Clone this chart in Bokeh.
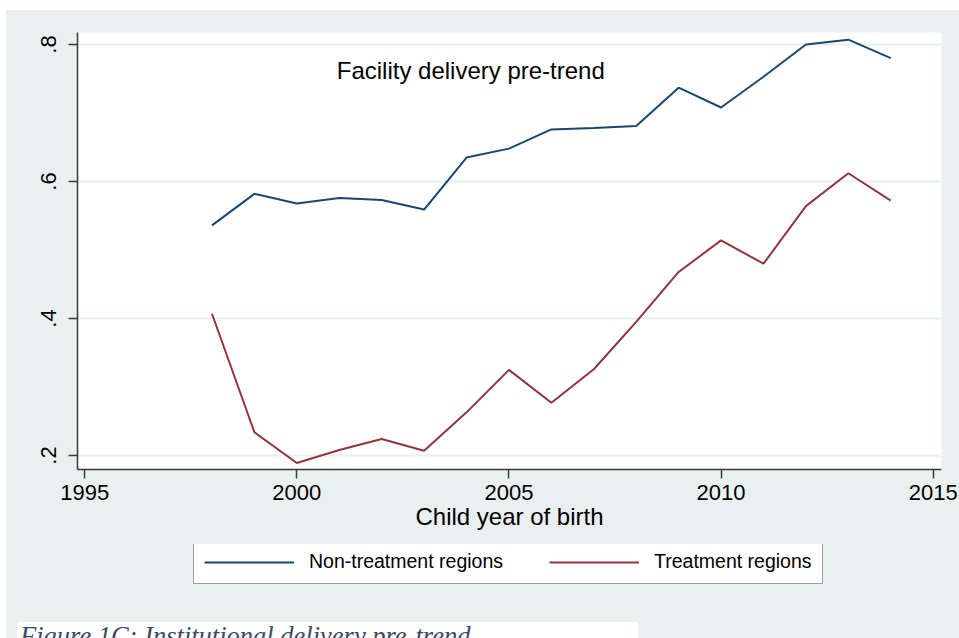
from bokeh.plotting import figure
from bokeh.models import Range1d, FixedTicker, Legend, LegendItem, Label, Div, Spacer
from bokeh.layouts import column, row
from bokeh.embed import file_html
from bokeh.resources import INLINE

years = [1998, 1999, 2000, 2001, 2002, 2003, 2004, 2005, 2006, 2007, 2008, 2009, 2010, 2011, 2012, 2013, 2014]
non_treatment = [0.536, 0.582, 0.568, 0.576, 0.573, 0.559, 0.635, 0.648, 0.676, 0.678, 0.681,
                 0.737, 0.708, 0.753, 0.800, 0.807, 0.780]
treatment = [0.407, 0.234, 0.189, 0.208, 0.224, 0.207, 0.263, 0.325, 0.277, 0.326, 0.395,
             0.468, 0.514, 0.480, 0.564, 0.612, 0.572]
x_ticks = [1995, 2000, 2005, 2010, 2015]
y_ticks = [0.2, 0.4, 0.6, 0.8]
y_tick_labels = {0.2: ".2", 0.4: ".4", 0.6: ".6", 0.8: ".8"}
series_names = ["Non-treatment regions", "Treatment regions"]
title_text = "Facility delivery pre-trend"
x_title = "Child year of birth"
caption_text = "Figure 1C: Institutional delivery pre-trend"

BG = "#eaf0f0"
BLUE = "#1a476f"
RED = "#90353b"
FONT = "Liberation Sans"
AXC = "#3a3a3a"

# ---- main chart ----
p = figure(width=953, height=534, output_backend="svg", toolbar_location=None,
           x_range=Range1d(1994.83, 2015.196), y_range=Range1d(0.1796, 0.8175),
           min_border_left=71, min_border_right=18, min_border_top=22, min_border_bottom=75)
p.border_fill_color = BG
p.background_fill_color = "white"
p.outline_line_color = None

p.line(years, non_treatment, line_color=BLUE, line_width=2)
p.line(years, treatment, line_color=RED, line_width=2)

for ax in (p.xaxis[0], p.yaxis[0]):
    ax.axis_line_color = AXC
    ax.axis_line_width = 1.5
    ax.major_tick_line_color = AXC
    ax.major_tick_line_width = 1.5
    ax.major_tick_out = 9
    ax.major_tick_in = 0
    ax.minor_tick_line_color = None
    ax.major_label_text_color = "black"
    ax.major_label_text_font = FONT

p.xaxis.ticker = FixedTicker(ticks=x_ticks)
p.xaxis.major_label_text_font_size = "22px"
p.xaxis.major_label_standoff = 6
p.xaxis.axis_label = x_title
p.xaxis.axis_label_text_font = FONT
p.xaxis.axis_label_text_font_size = "24px"
p.xaxis.axis_label_text_font_style = "normal"
p.xaxis.axis_label_text_color = "black"
p.xaxis.axis_label_standoff = 0

p.yaxis.ticker = FixedTicker(ticks=y_ticks)
p.yaxis.major_label_overrides = y_tick_labels
p.yaxis.major_label_orientation = "vertical"
p.yaxis.major_label_text_font_size = "22px"
p.yaxis.major_label_standoff = 12

p.xgrid.grid_line_color = None
p.ygrid.ticker = FixedTicker(ticks=y_ticks)
p.ygrid.grid_line_color = BG
p.ygrid.grid_line_width = 2

p.add_layout(Label(x=2004.1, y=0.762, text=title_text, text_font=FONT, text_font_size="24px",
                   text_color="black", text_align="center", text_baseline="middle"))

# ---- legend strip (same series, plotted out of view; only the legend shows) ----
lf = figure(width=953, height=78, output_backend="svg", toolbar_location=None,
            x_range=Range1d(1994.83, 2015.196), y_range=Range1d(5, 6),
            min_border_left=0, min_border_right=0, min_border_top=0, min_border_bottom=0)
lf.axis.visible = False
lf.grid.visible = False
lf.border_fill_color = BG
lf.background_fill_color = BG
lf.outline_line_color = None
l1 = lf.line(years, non_treatment, line_color=BLUE, line_width=2)
l2 = lf.line(years, treatment, line_color=RED, line_width=2)

legend = Legend(items=[LegendItem(label=series_names[0], renderers=[l1]),
                       LegendItem(label=series_names[1], renderers=[l2])],
                orientation="horizontal", location=(116, 38))
legend.label_text_font = FONT
legend.label_text_font_size = "19.5px"
legend.label_text_color = "black"
legend.glyph_width = 90
legend.glyph_height = 20
legend.label_standoff = 15
legend.spacing = 46
legend.padding = 10
legend.margin = 0
legend.border_line_color = AXC
legend.border_line_width = 1.5
legend.background_fill_color = "white"
legend.background_fill_alpha = 1
lf.add_layout(legend, "center")

# ---- caption strip ----
cap_style = {"background-color": "white", "overflow": "hidden", "font-family": "Liberation Serif",
             "font-style": "italic", "font-size": "26.5px", "line-height": "26px",
             "color": "#3b4a66", "padding-top": "1px", "padding-left": "3px", "white-space": "nowrap"}
caption = Div(text=caption_text, width=621, height=16, styles=cap_style, margin=0)
grey_a = Spacer(width=11, height=16, margin=0)
grey_b = Spacer(width=321, height=16, margin=0)

inner = column(p, lf, row(grey_a, caption, grey_b, spacing=0), spacing=0,
               styles={"background-color": BG})

layout = column(Spacer(height=10, width=959, margin=0),
                row(Spacer(width=6, height=10, margin=0), inner, spacing=0),
                spacing=0)

open("out.html", "w").write(file_html(layout, INLINE))
